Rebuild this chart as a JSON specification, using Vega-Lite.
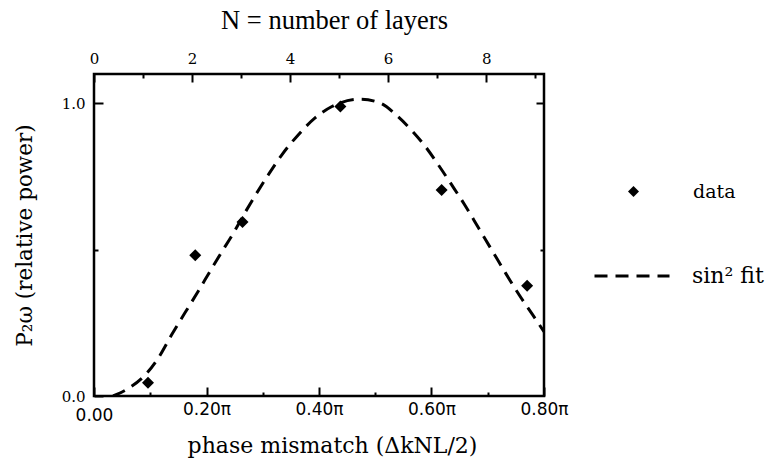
{
  "$schema": "https://vega.github.io/schema/vega-lite/v6.json",
  "width": 450,
  "height": 322,
  "autosize": "none",
  "padding": {"left": 94, "top": 74, "right": 229, "bottom": 70},
  "background": "white",
  "config": {
    "view": {"stroke": "black", "strokeWidth": 2.5},
    "axis": {
      "domain": false,
      "grid": false,
      "labelColor": "black",
      "tickColor": "black",
      "titleColor": "black",
      "tickWidth": 2,
      "labelFont": "DejaVu Serif",
      "titleFont": "DejaVu Serif",
      "titleFontWeight": "normal",
      "labelFlush": false,
      "labelOverlap": false
    },
    "legend": {"title": null, "padding": 0, "labelFont": "DejaVu Serif", "labelColor": "black"}
  },
  "datasets": {
    "fit": [
      {"phase": 0.034, "power": 0.0},
      {"phase": 0.061, "power": 0.026},
      {"phase": 0.091, "power": 0.072},
      {"phase": 0.114, "power": 0.129},
      {"phase": 0.138, "power": 0.209},
      {"phase": 0.162, "power": 0.285},
      {"phase": 0.185, "power": 0.357},
      {"phase": 0.206, "power": 0.425},
      {"phase": 0.227, "power": 0.492},
      {"phase": 0.248, "power": 0.557},
      {"phase": 0.265, "power": 0.615},
      {"phase": 0.286, "power": 0.683},
      {"phase": 0.310, "power": 0.756},
      {"phase": 0.334, "power": 0.824},
      {"phase": 0.363, "power": 0.892},
      {"phase": 0.393, "power": 0.950},
      {"phase": 0.423, "power": 0.989},
      {"phase": 0.474, "power": 1.014},
      {"phase": 0.510, "power": 1.0},
      {"phase": 0.540, "power": 0.955},
      {"phase": 0.564, "power": 0.909},
      {"phase": 0.588, "power": 0.855},
      {"phase": 0.612, "power": 0.790},
      {"phase": 0.636, "power": 0.721},
      {"phase": 0.660, "power": 0.650},
      {"phase": 0.684, "power": 0.573},
      {"phase": 0.708, "power": 0.496},
      {"phase": 0.732, "power": 0.419},
      {"phase": 0.756, "power": 0.345},
      {"phase": 0.780, "power": 0.277},
      {"phase": 0.800, "power": 0.220}
    ],
    "pts": [
      {"phase": 0.096, "power": 0.045, "N": 1, "series": "data"},
      {"phase": 0.180, "power": 0.481, "N": 2, "series": "data"},
      {"phase": 0.264, "power": 0.594, "N": 3, "series": "data"},
      {"phase": 0.438, "power": 0.989, "N": 5, "series": "data"},
      {"phase": 0.618, "power": 0.704, "N": 7, "series": "data"},
      {"phase": 0.770, "power": 0.377, "N": 9, "series": "data"}
    ]
  },
  "layer": [
    {
      "data": {"name": "fit"},
      "mark": {"type": "line", "color": "black", "strokeWidth": 3, "interpolate": "monotone", "clip": true},
      "encoding": {
        "x": {
          "field": "phase", "type": "quantitative",
          "scale": {"domain": [0, 0.8], "nice": false, "zero": false},
          "axis": {
            "orient": "bottom",
            "values": [0, 0.1, 0.2, 0.3, 0.4, 0.5, 0.6, 0.7, 0.8],
            "labelExpr": "round(datum.value*10) % 2 === 0 ? (datum.value === 0 ? '0.00' : format(datum.value, '.2f') + 'π') : ''",
            "labelFont": "DejaVu Sans",
            "labelFontSize": 17,
            "tickSize": {"condition": {"test": "round(datum.value*10) % 2 === 0", "value": -9}, "value": -4},
            "labelPadding": {"condition": {"test": "datum.value === 0", "value": 20}, "value": 14},
            "title": "phase mismatch (ΔkNL/2)",
            "titleFontSize": 22,
            "titlePadding": 12,
            "titleX": 238
          }
        },
        "y": {
          "field": "power", "type": "quantitative",
          "scale": {"domain": [0, 1.1], "nice": false, "zero": false},
          "axis": {
            "orient": "left",
            "values": [0, 0.5, 1],
            "labelExpr": "datum.value === 0.5 ? '' : format(datum.value, '.1f')",
            "labelFontSize": 15,
            "tickSize": {"condition": {"test": "datum.value === 0.5", "value": -4}, "value": -9},
            "labelPadding": 18,
            "title": "P₂ω (relative power)",
            "titleFontSize": 21.5,
            "titlePadding": 25
          }
        },
        "strokeDash": {
          "datum": "sin² fit", "type": "nominal",
          "scale": {"domain": ["sin² fit"], "range": [[13, 8]]},
          "legend": {
            "orient": "none",
            "legendX": 499,
            "legendY": 163,
            "symbolType": "stroke",
            "symbolSize": 5625,
            "symbolStrokeColor": "black",
            "symbolStrokeWidth": 3,
            "labelFontSize": 22,
            "labelOffset": 21
          }
        }
      }
    },
    {
      "data": {"name": "pts"},
      "mark": {"type": "point", "filled": true, "color": "black", "size": 144, "opacity": 1},
      "encoding": {
        "x": {"field": "phase", "type": "quantitative", "scale": {"domain": [0, 0.8], "nice": false, "zero": false}, "axis": null},
        "y": {"field": "power", "type": "quantitative", "axis": null},
        "shape": {
          "field": "series", "type": "nominal",
          "scale": {"domain": ["data"], "range": ["diamond"]},
          "legend": {
            "orient": "none",
            "legendX": 530,
            "legendY": 108,
            "symbolSize": 120,
            "symbolFillColor": "black",
            "symbolStrokeWidth": 0,
            "labelFontSize": 19,
            "labelOffset": 50
          }
        }
      }
    },
    {
      "data": {"name": "pts"},
      "mark": {"type": "point", "opacity": 0},
      "encoding": {
        "x": {
          "field": "N", "type": "quantitative",
          "scale": {"domain": [0, 9.18], "nice": false, "zero": false},
          "axis": {
            "orient": "top",
            "values": [0, 1, 2, 3, 4, 5, 6, 7, 8, 9],
            "labelExpr": "datum.value % 2 === 0 ? format(datum.value, 'd') : ''",
            "labelFontSize": 15,
            "tickSize": {"condition": {"test": "datum.value % 2 === 0", "value": -8}, "value": -4},
            "labelPadding": 16,
            "title": "N = number of layers",
            "titleFont": "Liberation Serif",
            "titleFontSize": 26.5,
            "titlePadding": 13,
            "titleX": 240
          }
        },
        "y": {
          "field": "power", "type": "quantitative",
          "axis": {
            "orient": "right",
            "values": [0.5, 1],
            "labels": false,
            "tickSize": {"condition": {"test": "datum.value === 0.5", "value": -4}, "value": -8},
            "title": null
          }
        }
      }
    }
  ],
  "resolve": {"scale": {"x": "independent"}, "axis": {"x": "independent", "y": "independent"}}
}
